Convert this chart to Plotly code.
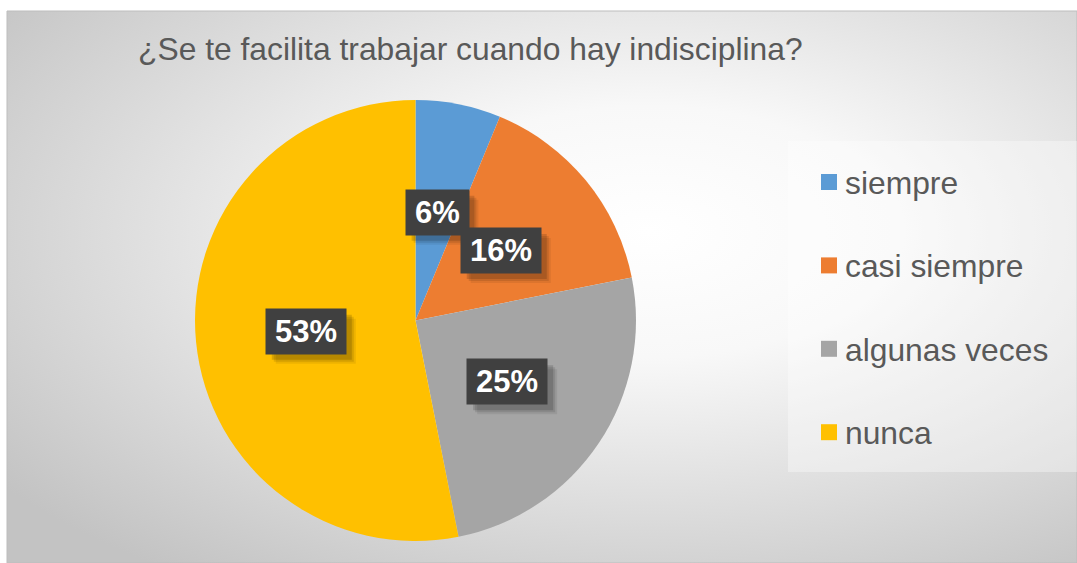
import math
import base64
import plotly.graph_objects as go

# ---- data ----
categories = ["siempre", "casi siempre", "algunas veces", "nunca"]
counts = [2, 5, 8, 17]
colors = ["#5B9BD5", "#ED7D31", "#A5A5A5", "#FFC000"]
title_text = "¿Se te facilita trabajar cuando hay indisciplina?"

W, H = 1077, 563

# ---- layout geometry (pixels) ----
area = dict(x0=7, y0=11, x1=1077, y1=563)
pie_cx, pie_cy, pie_r = 415.5, 320.5, 220.5
legend_box = dict(x0=788, y0=141, x1=1077, y1=472)
legend_first_y, legend_step = 182, 83.4
legend_sq_x, legend_sq = 829, 16
legend_text_x = 845
label_font = 31
label_pad_x, label_box_h = 9, 45

def px(x):
    return x / W

def py(y):
    return 1 - y / H

total = sum(counts)
pcts = [c / total * 100 for c in counts]

fig = go.Figure()
fig.add_trace(go.Pie(
    labels=categories,
    values=counts,
    sort=False,
    direction="clockwise",
    rotation=0,
    marker=dict(colors=colors, line=dict(width=0)),
    textinfo="none",
    hoverinfo="label+percent",
    showlegend=False,
    domain=dict(x=[px(pie_cx - pie_r), px(pie_cx + pie_r)],
                y=[py(pie_cy + pie_r), py(pie_cy - pie_r)]),
))

# background gradient
svg = ("<svg xmlns='http://www.w3.org/2000/svg' width='1070' height='552' preserveAspectRatio='none'>"
       "<defs><radialGradient id='g' cx='0.6' cy='0.4' r='0.76' gradientUnits='objectBoundingBox'>"
       "<stop offset='0' stop-color='#ffffff'/><stop offset='0.3' stop-color='#f8f8f8'/>"
       "<stop offset='1' stop-color='#c3c3c3'/></radialGradient></defs>"
       "<rect width='100%' height='100%' fill='url(#g)'/></svg>")
src = "data:image/svg+xml;base64," + base64.b64encode(svg.encode()).decode()

images = [dict(source=src, xref="paper", yref="paper",
               x=px(area["x0"]), y=py(area["y0"]),
               sizex=px(area["x1"]) - px(area["x0"]),
               sizey=py(area["y0"]) - py(area["y1"]),
               sizing="stretch", xanchor="left", yanchor="top", layer="below")]

shapes = [
    dict(type="rect", xref="paper", yref="paper",
         x0=px(area["x0"]), x1=px(area["x1"]), y0=py(area["y1"]), y1=py(area["y0"]),
         line=dict(color="#bdbdbd", width=1), fillcolor="rgba(0,0,0,0)", layer="below"),
    dict(type="rect", xref="paper", yref="paper",
         x0=px(legend_box["x0"]), x1=px(legend_box["x1"]),
         y0=py(legend_box["y1"]), y1=py(legend_box["y0"]),
         line=dict(width=0), fillcolor="rgba(255,255,255,0.35)", layer="below"),
]

annotations = [dict(
    text=title_text, xref="paper", yref="paper", x=px(470), y=py(49),
    xanchor="center", yanchor="middle", showarrow=False,
    font=dict(family="Liberation Sans, Arial", size=31.8, color="#595959"))]

# legend (manual)
for i, (cat, col) in enumerate(zip(categories, colors)):
    yc = legend_first_y + i * legend_step
    shapes.append(dict(type="rect", xref="paper", yref="paper",
                       x0=px(legend_sq_x - legend_sq / 2), x1=px(legend_sq_x + legend_sq / 2),
                       y0=py(yc + legend_sq / 2), y1=py(yc - legend_sq / 2),
                       fillcolor=col, line=dict(width=0)))
    annotations.append(dict(text=cat, xref="paper", yref="paper",
                            x=px(legend_text_x - 2), y=py(yc + 1), xanchor="left", yanchor="middle",
                            showarrow=False,
                            font=dict(family="Liberation Sans, Arial", size=31.8, color="#595959")))

# bold Arial advance widths (per 1000 em)
bold_w = {"%": 889}
for d in "0123456789":
    bold_w[d] = 556

# data labels at half radius along each slice's mid angle
cum = 0
label_r = 0.5 * pie_r
for p in pcts:
    mid = (cum + p / 2) / 100 * 2 * math.pi
    cum += p
    lx = pie_cx + label_r * math.sin(mid)
    ly = pie_cy - label_r * math.cos(mid)
    txt = f"{round(p)}%"
    tw = sum(bold_w[c] for c in txt) * label_font / 1000
    bw = tw + 2 * label_pad_x
    bh = label_box_h
    # soft shadow (layered rectangles)
    for off, alpha in [(10, 0.07), (8, 0.1), (6, 0.14)]:
        shapes.append(dict(type="rect", xref="paper", yref="paper",
                           x0=px(lx - bw / 2 + off), x1=px(lx + bw / 2 + off),
                           y0=py(ly + bh / 2 + off), y1=py(ly - bh / 2 + off),
                           fillcolor=f"rgba(0,0,0,{alpha})", line=dict(width=0)))
    annotations.append(dict(text=f"<b>{txt}</b>", xref="paper", yref="paper", x=px(lx), y=py(ly),
                            xanchor="center", yanchor="middle", showarrow=False,
                            width=bw - 4, height=bh - 4, align="center", valign="middle",
                            bgcolor="#404040", borderpad=2,
                            font=dict(family="Liberation Sans, Arial", size=label_font, color="#ffffff")))

fig.update_layout(
    width=W, height=H, autosize=False,
    margin=dict(l=0, r=0, t=0, b=0),
    paper_bgcolor="#ffffff", plot_bgcolor="#ffffff",
    images=images, shapes=shapes, annotations=annotations,
    showlegend=False,
)

fig.write_html("out.html", config={"displayModeBar": False})
with open("out.html", "r", encoding="utf-8") as f:
    html = f.read()
html = html.replace("<body>", "<body style=\"margin:0;padding:0;overflow:hidden\">", 1)
with open("out.html", "w", encoding="utf-8") as f:
    f.write(html)
